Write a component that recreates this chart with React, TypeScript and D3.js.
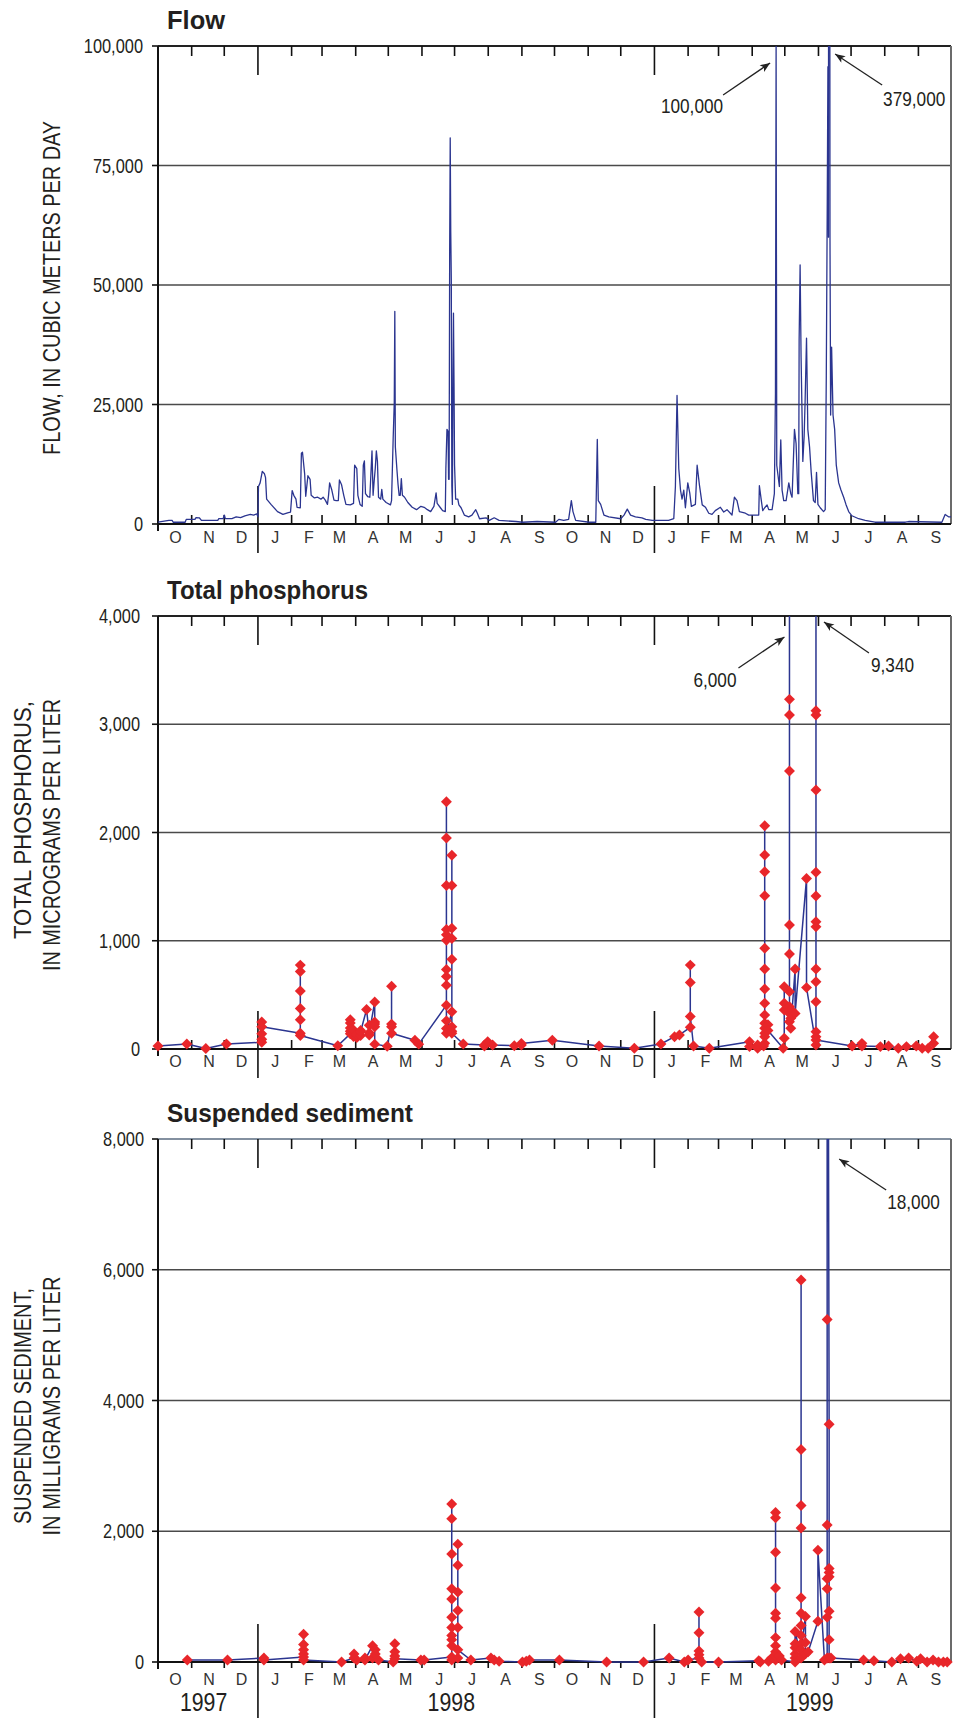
import React from 'react';
import * as d3 from 'd3';

// days are counted from 1 October 1997
const START = Date.UTC(1997, 9, 1);
const END = Date.UTC(1999, 9, 1);
const DAY_MS = 86400000;

// Flow, in cubic meters per day: [day, value]
const FLOW: [number, number][] = [
  [0, 370], [10, 750], [13, 750], [14, 370], [25, 370], [26, 970], [34, 970], [35, 1350], [38, 1300], [40, 750],
  [55, 750], [56, 1120], [60, 1120], [61, 1870], [62, 1120], [68, 1120], [72, 1500], [76, 1350], [80, 1720], [85, 2000],
  [88, 1870], [91, 2100], [92, 1500], [92.5, 7850], [94, 8600], [96, 11000], [98, 10500], [99, 9700], [100, 5200], [104, 4100],
  [110, 2600], [115, 2000], [120, 2400], [122, 2500], [123.5, 7000], [125, 6000], [127, 5200], [128, 3500], [131, 3400], [132, 14800],
  [133, 15000], [135, 10500], [136, 5800], [138, 10100], [140, 9350], [141, 6000], [144, 5450], [147, 5600], [150, 5200], [152, 5600],
  [154, 5000], [156, 4100], [157, 6000], [158, 8600], [160, 7100], [162, 5000], [164, 4900], [166, 4900], [167, 9200], [169, 8200],
  [171, 6000], [173, 4100], [177, 4000], [180, 4300], [181, 12300], [183, 11600], [184, 6000], [186, 4100], [188, 3700], [189, 12300],
  [190, 13200], [191, 6350], [193, 5750], [195, 5600], [196, 10500], [197, 15300], [198, 6000], [199, 9000], [200, 11600], [201, 15300],
  [202, 13100], [203, 5600], [205, 5200], [206, 7250], [207, 5200], [210, 4500], [214, 4000], [215, 4900], [216.5, 18000], [217.5, 25400],
  [218, 44500], [218.5, 16100], [220, 11200], [221, 8200], [222, 6000], [223, 6000], [224, 9500], [225, 6000], [227, 5600], [230, 4500],
  [234, 3500], [238, 3000], [242, 3700], [245, 3500], [248, 3000], [251, 2600], [254, 3700], [256, 6500], [257, 4300], [260, 3400],
  [262, 2800], [264.5, 2600], [265, 11600], [266, 19800], [267, 19400], [267.5, 9350], [268, 9350], [268.5, 57200], [269, 80800], [269.5, 61000],
  [270, 51200], [270.5, 7850], [271, 4100], [271.5, 30300], [272, 44100], [272.5, 29500], [273, 12300], [274, 5200], [276, 5200], [277, 4000],
  [279, 3400], [282, 1870], [286, 1500], [289, 1870], [292.5, 3000], [294, 2250], [296, 1100], [302, 1300], [305, 750], [309.5, 1300],
  [314, 750], [329.5, 520], [335.5, 370], [349, 520], [366, 370], [369, 970], [373.5, 750], [378, 970], [380.5, 4900], [382, 2600],
  [384.5, 750], [397, 370], [403, 370], [404.4, 17700], [405.3, 4900], [407.5, 4100], [410.5, 1870], [415, 1500], [426, 1100], [429, 1870],
  [432, 3100], [435, 1870], [439.5, 1500], [445.5, 1300], [449, 970], [455, 750], [470, 750], [474.8, 1100], [476.3, 7850], [477.8, 26900],
  [479.4, 11600], [481, 7100], [482.4, 5200], [484, 7100], [485.5, 3400], [487.7, 8600], [489.5, 6500], [491, 3700], [494.7, 4100], [496.3, 12300],
  [498.4, 8200], [501, 4000], [504, 3500], [507, 2250], [510, 2000], [513, 2800], [517.7, 3500], [520.8, 2500], [523.8, 3000], [528.4, 1870],
  [530.6, 5600], [533, 4900], [535.2, 2600], [540.7, 2250], [543.8, 1870], [553, 1870], [553.6, 8000], [555.4, 4900], [556.7, 2800], [558.5, 3400],
  [560.7, 4000], [562.2, 3000], [565.3, 3000], [567.4, 6350], [568.4, 27300], [569, 100000], [569.6, 12300], [570.8, 10100], [572, 7850], [573.3, 17600],
  [574.5, 7100], [576, 4900], [578.2, 4900], [580.7, 8600], [582.5, 6350], [583.7, 5600], [585.9, 19800], [587.4, 16800], [589, 6350], [589.8, 6350],
  [590.2, 38500], [591.1, 54200], [592, 34800], [593.6, 13100], [594.8, 18300], [595.7, 25700], [597, 38900], [598.2, 19800], [599.8, 16100], [601.3, 10800],
  [603.4, 4900], [605, 4500], [606.2, 10800], [607.5, 4100], [609.6, 3400], [612.7, 2600], [614.2, 3000], [615.2, 31000], [616.1, 67700], [616.7, 95700],
  [617.2, 60000], [617.8, 379000], [618.6, 60000], [619.2, 22800], [620.1, 37000], [621.4, 22800], [622.9, 19800], [624.4, 12300], [626.6, 8600], [628.7, 7100],
  [631.2, 5600], [633.3, 4100], [635.8, 2600], [638.8, 1720], [645, 1100], [651, 750], [660, 370], [688, 370], [691, 520], [721.6, 370],
  [724.6, 2000], [727.7, 1500], [730, 1500],
];

// Total phosphorus, micrograms per liter: [day, samples of that day in order]
const PHOSPHORUS: [number, number[]][] = [
  [0, [28]], [26.5, [46]], [44, [5]], [63, [46]],
  [95.5, [62, 90, 140, 250, 205]],
  [131, [145, 270, 375, 535, 715, 775, 125]],
  [165.5, [30]],
  [177, [140, 165, 195, 240, 270]], [180, [115, 150, 175]], [183, [105, 135]], [186.5, [125, 170, 160]],
  [192, [365]], [194.5, [130, 220, 150]], [199.5, [435, 250, 230, 205, 45]],
  [211, [25]], [215, [230, 580, 205, 145]], [236.5, [80]], [240, [45]],
  [265.5, [405, 590, 670, 735, 1005, 1055, 1105, 1510, 1950, 2285, 260, 190, 145]],
  [270.5, [345, 830, 1020, 1115, 1510, 1790, 205, 165, 145]],
  [281, [46]], [300.5, [37, 28]], [303.5, [68]], [308, [37]], [328, [30]], [334.5, [37, 50]], [363, [80]],
  [406, [28]], [438.5, [6]], [463, [46]], [475.5, [114]], [480, [130]],
  [490, [200, 775, 615, 300]], [493, [28]], [507.5, [6]],
  [544.5, [68, 22]], [552, [6, 37]], [557.5, [28]],
  [558.5, [52, 145, 237, 422, 554, 739, 930, 1416, 1638, 1792, 2063, 314, 191, 114]],
  [561.5, [225, 170]], [575.5, [6]], [576.5, [99, 360, 422, 576]],
  [581.3, [530, 877, 1145, 2568, 3085, 3230, 6000, 391, 329, 252]],
  [582.5, [360, 283, 191]], [586.5, [739, 329]], [597, [1576, 567]],
  [605.7, [37, 437, 622, 739, 1130, 1176, 1413, 1632, 2392, 3085, 3125, 9340, 160, 114, 83]],
  [639, [28]], [648, [52, 28]], [665, [22]], [672.5, [28]], [681.5, [6]], [689, [22]], [698, [28]],
  [703.5, [6]], [709, [6]], [714, [114, 52]],
];

// Suspended sediment, milligrams per liter: [day, samples of that day in order]
const SEDIMENT: [number, number[]][] = [
  [27, [31]], [64, [31]], [97.5, [62, 31]],
  [134, [75, 124, 186, 267, 423, 31]],
  [169, [0]], [180.5, [62, 124]], [183, [31]], [190.5, [62, 31]], [197.5, [249, 62]], [200, [186, 124]], [203, [31]],
  [216.5, [0]], [218, [93, 155, 280, 50]], [242, [31]], [245, [31]],
  [270.4, [75, 249, 342, 404, 528, 684, 963, 1119, 1652, 2193, 2417, 31]],
  [276, [62, 528, 1069, 1803, 1479, 789, 186]],
  [288, [31]], [306.5, [62]], [309.5, [31]], [314, [12]], [335.5, [0]], [339, [12]], [342, [31]], [369.5, [31]],
  [413, [0]], [447, [0]], [470.5, [62]], [484.5, [0]], [488, [31]],
  [498, [62, 765, 448, 168, 112]], [500.5, [0]], [516, [0]], [553, [19]], [554.5, [0]], [562, [12]], [565, [62]],
  [568.5, [31, 2288, 2207, 1678, 1131, 746, 671, 373, 249, 155, 93]],
  [572, [93]], [574, [31]],
  [586.5, [0, 62, 124, 218, 280, 466]],
  [592, [62, 5843, 3251, 2393, 2051, 982, 746, 559, 404, 280, 186]],
  [596, [696, 298, 124]], [598.5, [155]], [607.5, [622, 1709]], [613.5, [31]],
  [616, [62, 684, 1119, 1274, 2095, 5240, 18000]],
  [617.8, [3636, 1430, 1368, 1305, 777, 342, 62]],
  [619.5, [62]], [649.5, [31]], [659, [19]], [675.5, [0]], [683.5, [50]], [691, [62]], [698.5, [12]],
  [702, [50]], [708, [0]], [713.5, [31]], [718.5, [0]], [723, [0]], [726.5, [0]],
];

const MONTH_LABELS = ['O', 'N', 'D', 'J', 'F', 'M', 'A', 'M', 'J', 'J', 'A', 'S', 'O', 'N', 'D', 'J', 'F', 'M', 'A', 'M', 'J', 'J', 'A', 'S'];
// year label and the day it is centred on
const YEAR_LABELS: [string, number][] = [['1997', 42], ['1998', 270], ['1999', 600]];

const FLOW_TICKS = [0, 25000, 50000, 75000, 100000];
const PHOSPHORUS_TICKS = [0, 1000, 2000, 3000, 4000];
const SEDIMENT_TICKS = [0, 2000, 4000, 6000, 8000];

// off-scale peaks: [label, day of the peak]
const FLOW_NOTES: [string, number][] = [['100,000', 569], ['379,000', 617.8]];
const PHOSPHORUS_NOTES: [string, number][] = [['6,000', 581.3], ['9,340', 605.7]];
const SEDIMENT_NOTES: [string, number][] = [['18,000', 616]];

// ---- layout ----
const WIDTH = 956;
const HEIGHT = 1718;
const PLOT_LEFT = 158;
const PLOT_RIGHT = 951;

const SANS = '"Liberation Sans", Arial, Helvetica, sans-serif';
const INK = '#231f20';
const NAVY = '#2b3590';
const RED = '#e8262a';
const GRID = '#4a4a4a';

const x = d3.scaleUtc().domain([new Date(START), new Date(END)]).range([PLOT_LEFT, PLOT_RIGHT]);
const xDay = (day: number) => x(new Date(START + day * DAY_MS));
const monthStarts = d3.utcMonth.range(new Date(START), new Date(END));

const diamond = d3.symbol().type(d3.symbolSquare).size(60)() as string;

type Pt = [number, number];
const flatten = (s: [number, number[]][]): Pt[] => s.flatMap(([d, vals]) => vals.map((v) => [d, v] as Pt));

// condensed type: no narrow face is installed, so squeeze Liberation Sans
const Narrow: React.FC<{ x: number; y: number; size: number; anchor?: string; rotate?: boolean; dy?: string; length?: number; children: React.ReactNode }> =
  ({ x: tx, y: ty, size, anchor = 'start', rotate = false, dy, length, children }) => (
    <text transform={`translate(${tx},${ty})${rotate ? ' rotate(-90)' : ''}${length ? '' : ' scale(0.82,1)'}`} dy={dy}
      textLength={length} lengthAdjust={length ? 'spacingAndGlyphs' : undefined}
      textAnchor={anchor} fontFamily={SANS} fontSize={size} fill={INK}>{children}</text>
  );

interface NoteLayout { side: 'left' | 'right'; tip: Pt; tail: Pt; text: Pt }

interface PanelSpec {
  id: string;
  title: string;
  titleWidth: number;
  top: number;
  bottom: number;
  max: number;
  ticks: number[];
  tickRight: number;
  yTitle: { text: string; x: number; y: number; length: number }[];
  monthDy: number;
  bottomTickDir: number;
  yearLineDown: number;
  topBorder: string;
  notes: [string, number][];
  noteLayout: NoteLayout[];
  points: Pt[];
  markers: boolean;
}

const PANELS: PanelSpec[] = [
  {
    id: 'flow', title: 'Flow', titleWidth: 58, top: 46, bottom: 524, max: 100000, ticks: FLOW_TICKS, tickRight: 143,
    yTitle: [{ text: 'FLOW, IN CUBIC METERS PER DAY', x: 60, y: 288, length: 334 }],
    monthDy: 19, bottomTickDir: -1, yearLineDown: 29, topBorder: '#222',
    notes: FLOW_NOTES,
    noteLayout: [
      { side: 'left', tip: [-6, 17], tail: [-53, 49], text: [-53, 67] },
      { side: 'right', tip: [6, 8], tail: [53, 39], text: [54, 60] },
    ],
    points: FLOW, markers: false,
  },
  {
    id: 'tp', title: 'Total phosphorus', titleWidth: 201, top: 616, bottom: 1049, max: 4000, ticks: PHOSPHORUS_TICKS, tickRight: 140,
    yTitle: [
      { text: 'TOTAL PHOSPHORUS,', x: 31, y: 820, length: 238 },
      { text: 'IN MICROGRAMS PER LITER', x: 60, y: 835, length: 272 },
    ],
    monthDy: 18, bottomTickDir: -1, yearLineDown: 29, topBorder: '#222',
    notes: PHOSPHORUS_NOTES,
    noteLayout: [
      { side: 'left', tip: [-5, 21], tail: [-51, 52], text: [-53, 71] },
      { side: 'right', tip: [8, 6], tail: [53, 37], text: [55, 56] },
    ],
    points: flatten(PHOSPHORUS), markers: true,
  },
  {
    id: 'ss', title: 'Suspended sediment', titleWidth: 246, top: 1139, bottom: 1662, max: 8000, ticks: SEDIMENT_TICKS, tickRight: 144,
    yTitle: [
      { text: 'SUSPENDED SEDIMENT,', x: 31, y: 1406, length: 236 },
      { text: 'IN MILLIGRAMS PER LITER', x: 60, y: 1406, length: 259 },
    ],
    monthDy: 23, bottomTickDir: 1, yearLineDown: HEIGHT - 1662, topBorder: '#8390a0',
    notes: SEDIMENT_NOTES,
    noteLayout: [{ side: 'right', tip: [12, 20], tail: [59, 51], text: [60, 70] }],
    points: flatten(SEDIMENT), markers: true,
  },
];

const Panel: React.FC<{ spec: PanelSpec }> = ({ spec }) => {
  const y = d3.scaleLinear().domain([0, spec.max]).range([spec.bottom, spec.top]);
  const line = d3.line<Pt>().x((d) => xDay(d[0])).y((d) => y(d[1]));
  const clipId = `clip-${spec.id}`;
  const fmt = d3.format(',');

  return (
    <g>
      <defs>
        <clipPath id={clipId}>
          <rect x={PLOT_LEFT - 7} y={spec.top} width={PLOT_RIGHT - PLOT_LEFT + 14} height={spec.bottom - spec.top + 8} />
        </clipPath>
      </defs>

      {/* title */}
      <text x={167} y={spec.top - 17} fontFamily={SANS} fontWeight="bold" fontSize={26} fill={INK}
        textLength={spec.titleWidth} lengthAdjust="spacingAndGlyphs">{spec.title}</text>

      {/* gridlines */}
      {spec.ticks.filter((t) => t > 0 && t < spec.max).map((t) => (
        <line key={t} x1={PLOT_LEFT} x2={PLOT_RIGHT} y1={y(t)} y2={y(t)} stroke={GRID} strokeWidth={1.6} />
      ))}

      {/* frame */}
      <line x1={PLOT_LEFT} x2={PLOT_RIGHT} y1={spec.top} y2={spec.top} stroke={spec.topBorder} strokeWidth={2} />
      <line x1={PLOT_RIGHT} x2={PLOT_RIGHT} y1={spec.top} y2={spec.bottom} stroke="#6b6b6b" strokeWidth={2} />
      <line x1={PLOT_LEFT} x2={PLOT_RIGHT} y1={spec.bottom} y2={spec.bottom} stroke="#111" strokeWidth={2} />
      <line x1={PLOT_LEFT} x2={PLOT_LEFT} y1={spec.top} y2={spec.bottom + 7} stroke="#111" strokeWidth={2} />

      {/* y ticks and labels */}
      {spec.ticks.map((t) => (
        <g key={t}>
          <line x1={PLOT_LEFT - 6} x2={PLOT_LEFT} y1={y(t)} y2={y(t)} stroke="#111" strokeWidth={1.6} />
          <Narrow x={spec.tickRight} y={y(t)} dy="0.36em" anchor="end" size={20}>{fmt(t)}</Narrow>
        </g>
      ))}

      {/* month ticks */}
      {monthStarts.slice(1).map((m) => {
        const mx = x(m);
        const isYear = m.getUTCMonth() === 0;
        return (
          <g key={m.getTime()}>
            <line x1={mx} x2={mx} y1={spec.top} y2={spec.top + (isYear ? 29 : 10)} stroke="#111" strokeWidth={1.6} />
            {isYear ? (
              <line x1={mx} x2={mx} y1={spec.bottom - 38} y2={spec.bottom + spec.yearLineDown} stroke="#111" strokeWidth={1.6} />
            ) : (
              <line x1={mx} x2={mx} y1={spec.bottom} y2={spec.bottom + spec.bottomTickDir * (spec.bottomTickDir < 0 ? 9 : 6)} stroke="#111" strokeWidth={1.6} />
            )}
          </g>
        );
      })}

      {/* month labels */}
      {monthStarts.map((m, i) => (
        <text key={m.getTime()} x={x(d3.utcDay.offset(m, 16))} y={spec.bottom + spec.monthDy} textAnchor="middle"
          fontFamily={SANS} fontSize={16} fill="#333">{MONTH_LABELS[i]}</text>
      ))}

      {/* axis title */}
      {spec.yTitle.map((l) => (
        <Narrow key={l.text} x={l.x} y={l.y} rotate anchor="middle" size={24} length={l.length}>{l.text}</Narrow>
      ))}

      {/* series */}
      <g clipPath={`url(#${clipId})`}>
        <path d={line(spec.points) ?? ''} fill="none" stroke={NAVY} strokeWidth={spec.markers ? 1.5 : 1.3} strokeLinejoin="round" />
        {spec.markers && spec.points.filter((p) => p[1] <= spec.max).map((p, i) => (
          <path key={i} d={diamond} transform={`translate(${xDay(p[0])},${y(p[1])}) rotate(45)`} fill={RED} />
        ))}
      </g>

      {/* off-scale peak notes */}
      {spec.notes.map(([label, day], i) => {
        const lay = spec.noteLayout[i];
        const px = xDay(day);
        return (
          <g key={label}>
            <line x1={px + lay.tail[0]} y1={spec.top + lay.tail[1]} x2={px + lay.tip[0]} y2={spec.top + lay.tip[1]}
              stroke="#222" strokeWidth={1.3} markerEnd="url(#arrowhead)" />
            <Narrow x={px + lay.text[0]} y={spec.top + lay.text[1]} anchor={lay.side === 'left' ? 'end' : 'start'} size={21}>
              {label}
            </Narrow>
          </g>
        );
      })}
    </g>
  );
};

export default function App() {
  return (
    <svg width={WIDTH} height={HEIGHT} style={{ position: 'absolute', left: 0, top: 0, background: '#fff' }}>
      <defs>
        <marker id="arrowhead" viewBox="0 0 10 8" refX="10" refY="4" markerWidth="11" markerHeight="8"
          markerUnits="userSpaceOnUse" orient="auto">
          <path d="M0,0 L10,4 L0,8 L2.5,4 Z" fill="#222" />
        </marker>
      </defs>
      <rect width={WIDTH} height={HEIGHT} fill="#fff" />
      {PANELS.map((p) => <Panel key={p.id} spec={p} />)}
      {YEAR_LABELS.map(([label, day]) => (
        <Narrow key={label} x={xDay(day)} y={1711} anchor="middle" size={26}>{label}</Narrow>
      ))}
    </svg>
  );
}
